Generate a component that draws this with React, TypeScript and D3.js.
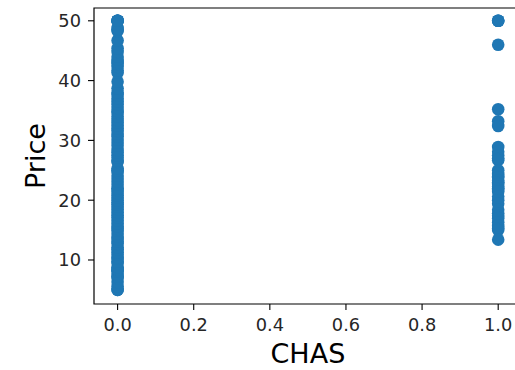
import React from "react";
import * as d3 from "d3";

// CHAS = 0 prices (dense band from 5 to 50)
const priceChas0: number[] = [
  5.0, 5.0, 5.6, 6.3, 7.0, 7.2, 7.5, 8.1, 8.3, 8.5, 8.8, 9.5, 9.7, 10.2, 10.4, 10.9,
  11.3, 11.8, 12.1, 12.7, 13.1, 13.5, 13.9, 14.4, 14.9, 15.2, 15.6, 16.1, 16.6, 17.1,
  17.5, 18.0, 18.5, 18.9, 19.3, 19.6, 20.0, 20.4, 20.8, 21.2, 21.7, 22.0, 22.6, 23.1,
  23.6, 24.1, 24.7, 25.0, 25.3, 26.4, 26.6, 27.1, 27.5, 28.0, 28.4, 29.1, 29.6, 30.1,
  30.7, 31.1, 31.6, 32.0, 32.5, 33.0, 33.4, 34.0, 34.6, 34.9, 35.4, 36.0, 36.5, 37.0,
  37.6, 38.0, 38.7, 39.8, 41.3, 41.7, 42.3, 42.8, 43.1, 43.5, 44.0, 44.8, 45.4, 46.7,
  48.3, 48.5, 48.8, 50.0, 50.0, 50.0, 50.0, 50.0,
];

// CHAS = 1 prices
const priceChas1: number[] = [
  50.0, 50.0, 50.0, 46.0, 35.2, 33.2, 32.4, 28.9, 28.1, 27.5, 27.0, 26.7, 25.0, 24.4,
  24.0, 23.8, 23.3, 23.0, 22.7, 22.3, 22.0, 21.7, 21.4, 20.6, 20.0, 19.4, 18.4, 17.8,
  17.4, 17.0, 16.3, 15.7, 15.3, 15.0, 13.4,
];

const xTicks = [0.0, 0.2, 0.4, 0.6, 0.8, 1.0];
const yTicks = [10, 20, 30, 40, 50];

const W = 515;
const H = 370;
const left = 94;
const top = 8;
const bottom = 304;

export default function App() {
  const x = d3.scaleLinear().domain([-0.062, 1.062]).range([left, left + 1.124 * 380.6]);
  const y = d3.scaleLinear().domain([2.64, 52.14]).range([bottom, top]);
  const color = "#1f77b4";
  const font = "DejaVu Sans, sans-serif";
  const right = W + 5;

  const points = [
    ...priceChas0.map((p) => ({ c: 0, p })),
    ...priceChas1.map((p) => ({ c: 1, p })),
  ];

  return (
    <svg
      width={W}
      height={H}
      style={{ position: "absolute", left: 0, top: 0, background: "white" }}
    >
      <rect x={0} y={0} width={W} height={H} fill="white" />
      {points.map((d, i) => (
        <circle key={i} cx={x(d.c)} cy={y(d.p)} r={6.3} fill={color} />
      ))}
      {/* spines */}
      <path
        d={`M${right},${top}H${left}V${bottom}H${right}`}
        fill="none"
        stroke="#000"
        strokeWidth={1.2}
      />
      {xTicks.map((t) => (
        <g key={"x" + t}>
          <line x1={x(t)} x2={x(t)} y1={bottom} y2={bottom + 6} stroke="#000" strokeWidth={1.1} />
          <text
            x={x(t)}
            y={331}
            textAnchor="middle"
            fontFamily={font}
            fontSize={17.8}
            fill="#262626"
          >
            {d3.format(".1f")(t)}
          </text>
        </g>
      ))}
      {yTicks.map((t) => (
        <g key={"y" + t}>
          <line x1={left - 6} x2={left} y1={y(t)} y2={y(t)} stroke="#000" strokeWidth={1.1} />
          <text
            x={81}
            y={y(t)}
            dy="0.36em"
            textAnchor="end"
            fontFamily={font}
            fontSize={17.8}
            fill="#262626"
          >
            {t}
          </text>
        </g>
      ))}
      <text
        x={(x(-0.062) + x(1.062)) / 2}
        y={363}
        textAnchor="middle"
        fontFamily={font}
        fontSize={27}
        fill="#000"
      >
        CHAS
      </text>
      <text
        transform={`translate(45,${(top + bottom) / 2}) rotate(-90)`}
        textAnchor="middle"
        fontFamily={font}
        fontSize={27}
        fill="#000"
      >
        Price
      </text>
    </svg>
  );
}
